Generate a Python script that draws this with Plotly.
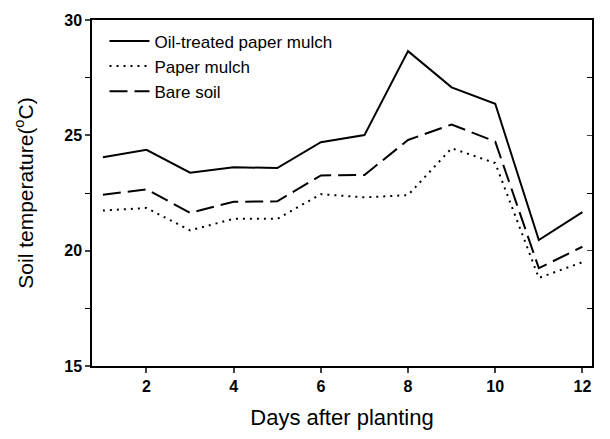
import plotly.graph_objects as go

days = [1, 2, 3, 4, 5, 6, 7, 8, 9, 10, 11, 12]
oil_treated = [24.05, 24.37, 23.38, 23.62, 23.58, 24.70, 25.01, 28.65, 27.08, 26.37, 20.46, 21.67]
paper_mulch = [21.74, 21.85, 20.88, 21.38, 21.38, 22.45, 22.31, 22.41, 24.44, 23.80, 18.82, 19.50]
bare_soil = [22.42, 22.66, 21.64, 22.12, 22.14, 23.26, 23.28, 24.80, 25.47, 24.73, 19.24, 20.17]

x_ticks = [2, 4, 6, 8, 10, 12]
y_ticks = [15, 20, 25, 30]
y_minor = [17.5, 22.5, 27.5]

font = "Liberation Sans, Arial, sans-serif"

fig = go.Figure()
fig.add_trace(go.Scatter(x=days, y=oil_treated, mode="lines", name="Oil-treated paper mulch",
                         line=dict(color="black", width=2, dash="solid")))
fig.add_trace(go.Scatter(x=days, y=paper_mulch, mode="lines", name="Paper mulch",
                         line=dict(color="black", width=2, dash="2px,5px")))
fig.add_trace(go.Scatter(x=days, y=bare_soil, mode="lines", name="Bare soil",
                         line=dict(color="black", width=2, dash="18px,7px")))
fig.add_trace(go.Scatter(x=[None], y=[None], yaxis="y2", showlegend=False, hoverinfo="skip"))

fig.update_layout(
    width=610, height=439,
    margin=dict(l=92, r=18, t=15, b=73),
    paper_bgcolor="white", plot_bgcolor="white",
    font=dict(family=font, color="black"),
    showlegend=True,
    legend=dict(x=0.025, y=0.99, xanchor="left", yanchor="top",
                font=dict(size=17, family=font, color="black"),
                bgcolor="rgba(0,0,0,0)", tracegroupgap=0, itemwidth=40),
    xaxis=dict(range=[0.75, 12.22], tickvals=x_ticks, ticks="outside", ticklen=5,
               tickwidth=1.5, showline=True, linecolor="black", linewidth=1.5,
               mirror=True, showgrid=False, zeroline=False,
               tickfont=dict(size=16, family=font, color="black", weight="bold"),
               title=dict(text="Days after planting", font=dict(size=22, family=font), standoff=16)),
    yaxis=dict(range=[15, 30], tickvals=y_ticks, ticks="outside", ticklen=5,
               tickwidth=1.5, showline=True, linecolor="black", linewidth=1.5,
               mirror=True, showgrid=False, zeroline=False,
               minor=dict(tickvals=y_minor, ticks="outside", ticklen=5, tickwidth=1, tickcolor="black"),
               tickfont=dict(size=16, family=font, color="black", weight="bold"),
               title=dict(text="Soil temperature(<sup>o</sup>C)", font=dict(size=21, family=font), standoff=25)),
    yaxis2=dict(range=[15, 30], overlaying="y", side="right", tickvals=y_ticks,
                ticks="inside", ticklen=5, tickwidth=1, showticklabels=False,
                showgrid=False, zeroline=False, showline=False,
                minor=dict(tickvals=y_minor, ticks="inside", ticklen=5, tickwidth=1, tickcolor="black")),
)

fig.write_html("out.html")
